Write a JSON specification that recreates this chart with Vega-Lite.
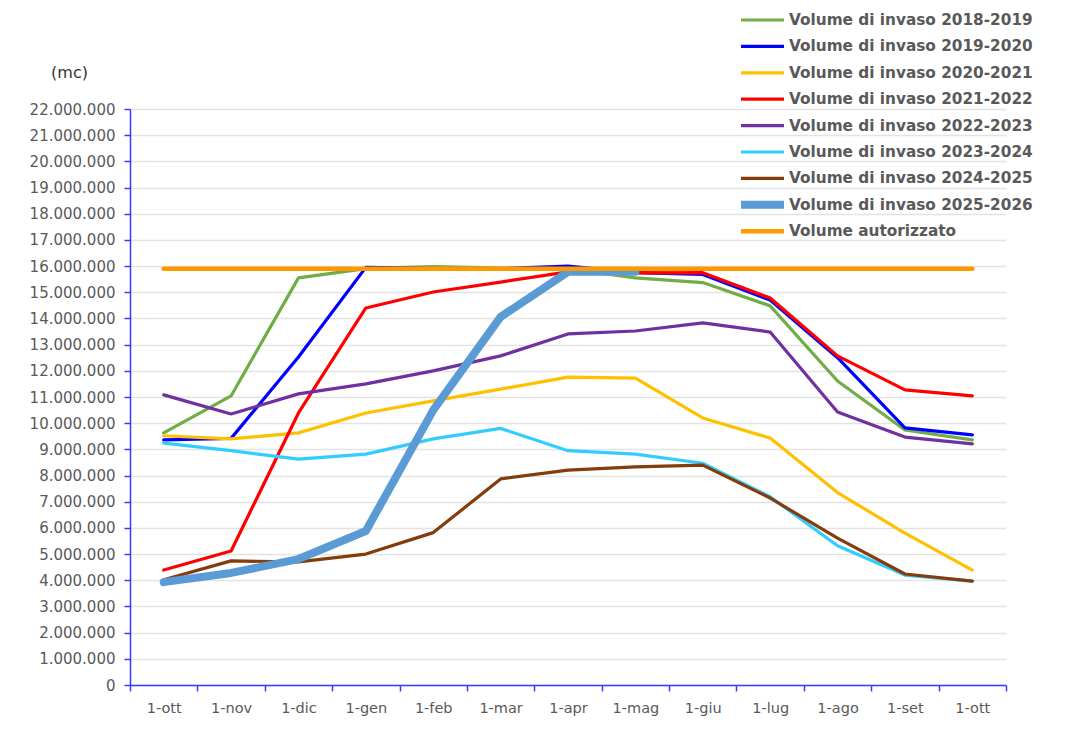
{
  "$schema": "https://vega.github.io/schema/vega-lite/v6.json",
  "width": 876,
  "height": 576,
  "autosize": {"type": "none"},
  "padding": {"left": 130, "top": 109, "right": 65, "bottom": 53},
  "background": "white",
  "config": {
    "locale": {"number": {"decimal": ",", "thousands": ".", "grouping": [3], "currency": ["€", ""]}},
    "view": {"stroke": null},
    "font": "DejaVu Sans"
  },
  "datasets": {
    "rows": [
      {"i": 0, "s": "Volume di invaso 2018-2019", "v": 9630000},
      {"i": 1, "s": "Volume di invaso 2018-2019", "v": 11040000},
      {"i": 2, "s": "Volume di invaso 2018-2019", "v": 15550000},
      {"i": 3, "s": "Volume di invaso 2018-2019", "v": 15900000},
      {"i": 4, "s": "Volume di invaso 2018-2019", "v": 15980000},
      {"i": 5, "s": "Volume di invaso 2018-2019", "v": 15920000},
      {"i": 6, "s": "Volume di invaso 2018-2019", "v": 15900000},
      {"i": 7, "s": "Volume di invaso 2018-2019", "v": 15550000},
      {"i": 8, "s": "Volume di invaso 2018-2019", "v": 15370000},
      {"i": 9, "s": "Volume di invaso 2018-2019", "v": 14480000},
      {"i": 10, "s": "Volume di invaso 2018-2019", "v": 11610000},
      {"i": 11, "s": "Volume di invaso 2018-2019", "v": 9740000},
      {"i": 12, "s": "Volume di invaso 2018-2019", "v": 9360000},
      {"i": 0, "s": "Volume di invaso 2019-2020", "v": 9360000},
      {"i": 1, "s": "Volume di invaso 2019-2020", "v": 9420000},
      {"i": 2, "s": "Volume di invaso 2019-2020", "v": 12530000},
      {"i": 3, "s": "Volume di invaso 2019-2020", "v": 15950000},
      {"i": 4, "s": "Volume di invaso 2019-2020", "v": 15900000},
      {"i": 5, "s": "Volume di invaso 2019-2020", "v": 15900000},
      {"i": 6, "s": "Volume di invaso 2019-2020", "v": 16000000},
      {"i": 7, "s": "Volume di invaso 2019-2020", "v": 15750000},
      {"i": 8, "s": "Volume di invaso 2019-2020", "v": 15680000},
      {"i": 9, "s": "Volume di invaso 2019-2020", "v": 14700000},
      {"i": 10, "s": "Volume di invaso 2019-2020", "v": 12500000},
      {"i": 11, "s": "Volume di invaso 2019-2020", "v": 9820000},
      {"i": 12, "s": "Volume di invaso 2019-2020", "v": 9550000},
      {"i": 0, "s": "Volume di invaso 2020-2021", "v": 9520000},
      {"i": 1, "s": "Volume di invaso 2020-2021", "v": 9400000},
      {"i": 2, "s": "Volume di invaso 2020-2021", "v": 9630000},
      {"i": 3, "s": "Volume di invaso 2020-2021", "v": 10390000},
      {"i": 4, "s": "Volume di invaso 2020-2021", "v": 10850000},
      {"i": 5, "s": "Volume di invaso 2020-2021", "v": 11300000},
      {"i": 6, "s": "Volume di invaso 2020-2021", "v": 11760000},
      {"i": 7, "s": "Volume di invaso 2020-2021", "v": 11720000},
      {"i": 8, "s": "Volume di invaso 2020-2021", "v": 10200000},
      {"i": 9, "s": "Volume di invaso 2020-2021", "v": 9430000},
      {"i": 10, "s": "Volume di invaso 2020-2021", "v": 7350000},
      {"i": 11, "s": "Volume di invaso 2020-2021", "v": 5800000},
      {"i": 12, "s": "Volume di invaso 2020-2021", "v": 4390000},
      {"i": 0, "s": "Volume di invaso 2021-2022", "v": 4390000},
      {"i": 1, "s": "Volume di invaso 2021-2022", "v": 5120000},
      {"i": 2, "s": "Volume di invaso 2021-2022", "v": 10390000},
      {"i": 3, "s": "Volume di invaso 2021-2022", "v": 14400000},
      {"i": 4, "s": "Volume di invaso 2021-2022", "v": 15010000},
      {"i": 5, "s": "Volume di invaso 2021-2022", "v": 15390000},
      {"i": 6, "s": "Volume di invaso 2021-2022", "v": 15780000},
      {"i": 7, "s": "Volume di invaso 2021-2022", "v": 15740000},
      {"i": 8, "s": "Volume di invaso 2021-2022", "v": 15750000},
      {"i": 9, "s": "Volume di invaso 2021-2022", "v": 14780000},
      {"i": 10, "s": "Volume di invaso 2021-2022", "v": 12570000},
      {"i": 11, "s": "Volume di invaso 2021-2022", "v": 11270000},
      {"i": 12, "s": "Volume di invaso 2021-2022", "v": 11040000},
      {"i": 0, "s": "Volume di invaso 2022-2023", "v": 11080000},
      {"i": 1, "s": "Volume di invaso 2022-2023", "v": 10350000},
      {"i": 2, "s": "Volume di invaso 2022-2023", "v": 11120000},
      {"i": 3, "s": "Volume di invaso 2022-2023", "v": 11500000},
      {"i": 4, "s": "Volume di invaso 2022-2023", "v": 12000000},
      {"i": 5, "s": "Volume di invaso 2022-2023", "v": 12570000},
      {"i": 6, "s": "Volume di invaso 2022-2023", "v": 13410000},
      {"i": 7, "s": "Volume di invaso 2022-2023", "v": 13520000},
      {"i": 8, "s": "Volume di invaso 2022-2023", "v": 13830000},
      {"i": 9, "s": "Volume di invaso 2022-2023", "v": 13480000},
      {"i": 10, "s": "Volume di invaso 2022-2023", "v": 10430000},
      {"i": 11, "s": "Volume di invaso 2022-2023", "v": 9470000},
      {"i": 12, "s": "Volume di invaso 2022-2023", "v": 9210000},
      {"i": 0, "s": "Volume di invaso 2023-2024", "v": 9240000},
      {"i": 1, "s": "Volume di invaso 2023-2024", "v": 8950000},
      {"i": 2, "s": "Volume di invaso 2023-2024", "v": 8630000},
      {"i": 3, "s": "Volume di invaso 2023-2024", "v": 8820000},
      {"i": 4, "s": "Volume di invaso 2023-2024", "v": 9400000},
      {"i": 5, "s": "Volume di invaso 2023-2024", "v": 9800000},
      {"i": 6, "s": "Volume di invaso 2023-2024", "v": 8950000},
      {"i": 7, "s": "Volume di invaso 2023-2024", "v": 8820000},
      {"i": 8, "s": "Volume di invaso 2023-2024", "v": 8470000},
      {"i": 9, "s": "Volume di invaso 2023-2024", "v": 7190000},
      {"i": 10, "s": "Volume di invaso 2023-2024", "v": 5320000},
      {"i": 11, "s": "Volume di invaso 2023-2024", "v": 4200000},
      {"i": 12, "s": "Volume di invaso 2023-2024", "v": 3970000},
      {"i": 0, "s": "Volume di invaso 2024-2025", "v": 4020000},
      {"i": 1, "s": "Volume di invaso 2024-2025", "v": 4740000},
      {"i": 2, "s": "Volume di invaso 2024-2025", "v": 4700000},
      {"i": 3, "s": "Volume di invaso 2024-2025", "v": 5000000},
      {"i": 4, "s": "Volume di invaso 2024-2025", "v": 5820000},
      {"i": 5, "s": "Volume di invaso 2024-2025", "v": 7870000},
      {"i": 6, "s": "Volume di invaso 2024-2025", "v": 8210000},
      {"i": 7, "s": "Volume di invaso 2024-2025", "v": 8330000},
      {"i": 8, "s": "Volume di invaso 2024-2025", "v": 8400000},
      {"i": 9, "s": "Volume di invaso 2024-2025", "v": 7140000},
      {"i": 10, "s": "Volume di invaso 2024-2025", "v": 5610000},
      {"i": 11, "s": "Volume di invaso 2024-2025", "v": 4240000},
      {"i": 12, "s": "Volume di invaso 2024-2025", "v": 3970000},
      {"i": 0, "s": "Volume di invaso 2025-2026", "v": 3930000},
      {"i": 1, "s": "Volume di invaso 2025-2026", "v": 4280000},
      {"i": 2, "s": "Volume di invaso 2025-2026", "v": 4810000},
      {"i": 3, "s": "Volume di invaso 2025-2026", "v": 5880000},
      {"i": 4, "s": "Volume di invaso 2025-2026", "v": 10500000},
      {"i": 5, "s": "Volume di invaso 2025-2026", "v": 14060000},
      {"i": 6, "s": "Volume di invaso 2025-2026", "v": 15780000},
      {"i": 7, "s": "Volume di invaso 2025-2026", "v": 15780000},
      {"i": 0, "s": "Volume autorizzato", "v": 15900000},
      {"i": 1, "s": "Volume autorizzato", "v": 15900000},
      {"i": 2, "s": "Volume autorizzato", "v": 15900000},
      {"i": 3, "s": "Volume autorizzato", "v": 15900000},
      {"i": 4, "s": "Volume autorizzato", "v": 15900000},
      {"i": 5, "s": "Volume autorizzato", "v": 15900000},
      {"i": 6, "s": "Volume autorizzato", "v": 15900000},
      {"i": 7, "s": "Volume autorizzato", "v": 15900000},
      {"i": 8, "s": "Volume autorizzato", "v": 15900000},
      {"i": 9, "s": "Volume autorizzato", "v": 15900000},
      {"i": 10, "s": "Volume autorizzato", "v": 15900000},
      {"i": 11, "s": "Volume autorizzato", "v": 15900000},
      {"i": 12, "s": "Volume autorizzato", "v": 15900000}
    ]
  },
  "data": {"name": "rows"},
  "mark": {"type": "line", "strokeCap": "round", "strokeJoin": "round"},
  "encoding": {
    "x": {
      "field": "i",
      "type": "ordinal",
      "bandPosition": 0.5,
      "scale": {"type": "band", "paddingInner": 0, "paddingOuter": 0},
      "axis": {
        "title": null,
        "labelAngle": 0,
        "labelExpr": "['1-ott','1-nov','1-dic','1-gen','1-feb','1-mar','1-apr','1-mag','1-giu','1-lug','1-ago','1-set','1-ott'][datum.value]",
        "tickBand": "extent",
        "domainColor": "#3a3aff",
        "domainWidth": 1.5,
        "tickColor": "#3a3aff",
        "tickWidth": 1.5,
        "tickSize": 6,
        "labelPadding": 10,
        "labelFontSize": 14.5,
        "labelColor": "#595959",
        "grid": false
      }
    },
    "y": {
      "field": "v",
      "type": "quantitative",
      "scale": {"domain": [0, 22000000], "nice": false},
      "axis": {
        "values": [0, 1000000, 2000000, 3000000, 4000000, 5000000, 6000000, 7000000, 8000000, 9000000, 10000000, 11000000, 12000000, 13000000, 14000000, 15000000, 16000000, 17000000, 18000000, 19000000, 20000000, 21000000, 22000000],
        "format": ",d",
        "title": "(mc)",
        "titleAngle": 0,
        "titleX": -61,
        "titleY": -37,
        "titleAlign": "center",
        "titleBaseline": "middle",
        "titleFontSize": 16,
        "titleFontWeight": "normal",
        "titleColor": "#333333",
        "labelFontSize": 15,
        "labelColor": "#595959",
        "labelPadding": 9,
        "tickSize": 6,
        "tickColor": "#3a3aff",
        "tickWidth": 1.5,
        "domainColor": "#3a3aff",
        "domainWidth": 1.5,
        "grid": true,
        "gridColor": "#e3e3e3",
        "gridWidth": 1.5
      }
    },
    "color": {
      "field": "s",
      "type": "nominal",
      "scale": {
        "domain": ["Volume di invaso 2018-2019", "Volume di invaso 2019-2020", "Volume di invaso 2020-2021", "Volume di invaso 2021-2022", "Volume di invaso 2022-2023", "Volume di invaso 2023-2024", "Volume di invaso 2024-2025", "Volume di invaso 2025-2026", "Volume autorizzato"],
        "range": ["#70ad47", "#0000ff", "#ffc000", "#ff0000", "#7030a0", "#33ccff", "#843c0c", "#5b9bd5", "#ff9900"]
      },
      "legend": {
        "title": null,
        "orient": "none",
        "legendX": 607,
        "legendY": -97,
        "padding": 0,
        "clipHeight": 16,
        "symbolType": "stroke",
        "symbolSize": 1849,
        "labelFontSize": 15.3,
        "labelFontWeight": "bold",
        "labelColor": "#595959",
        "labelOffset": 1,
        "rowPadding": 9.4,
        "labelLimit": 400
      }
    },
    "strokeWidth": {
      "field": "s",
      "type": "nominal",
      "scale": {
        "type": "ordinal",
        "domain": ["Volume di invaso 2018-2019", "Volume di invaso 2019-2020", "Volume di invaso 2020-2021", "Volume di invaso 2021-2022", "Volume di invaso 2022-2023", "Volume di invaso 2023-2024", "Volume di invaso 2024-2025", "Volume di invaso 2025-2026", "Volume autorizzato"],
        "range": [3.2, 3.2, 3.2, 3.2, 3.2, 3.2, 3.2, 8, 4.5]
      },
      "legend": {
        "title": null,
        "orient": "none",
        "legendX": 607,
        "legendY": -97,
        "padding": 0,
        "clipHeight": 16,
        "symbolType": "stroke",
        "symbolSize": 1849,
        "labelFontSize": 15.3,
        "labelFontWeight": "bold",
        "labelColor": "#595959",
        "labelOffset": 1,
        "rowPadding": 9.4,
        "labelLimit": 400
      }
    }
  }
}
